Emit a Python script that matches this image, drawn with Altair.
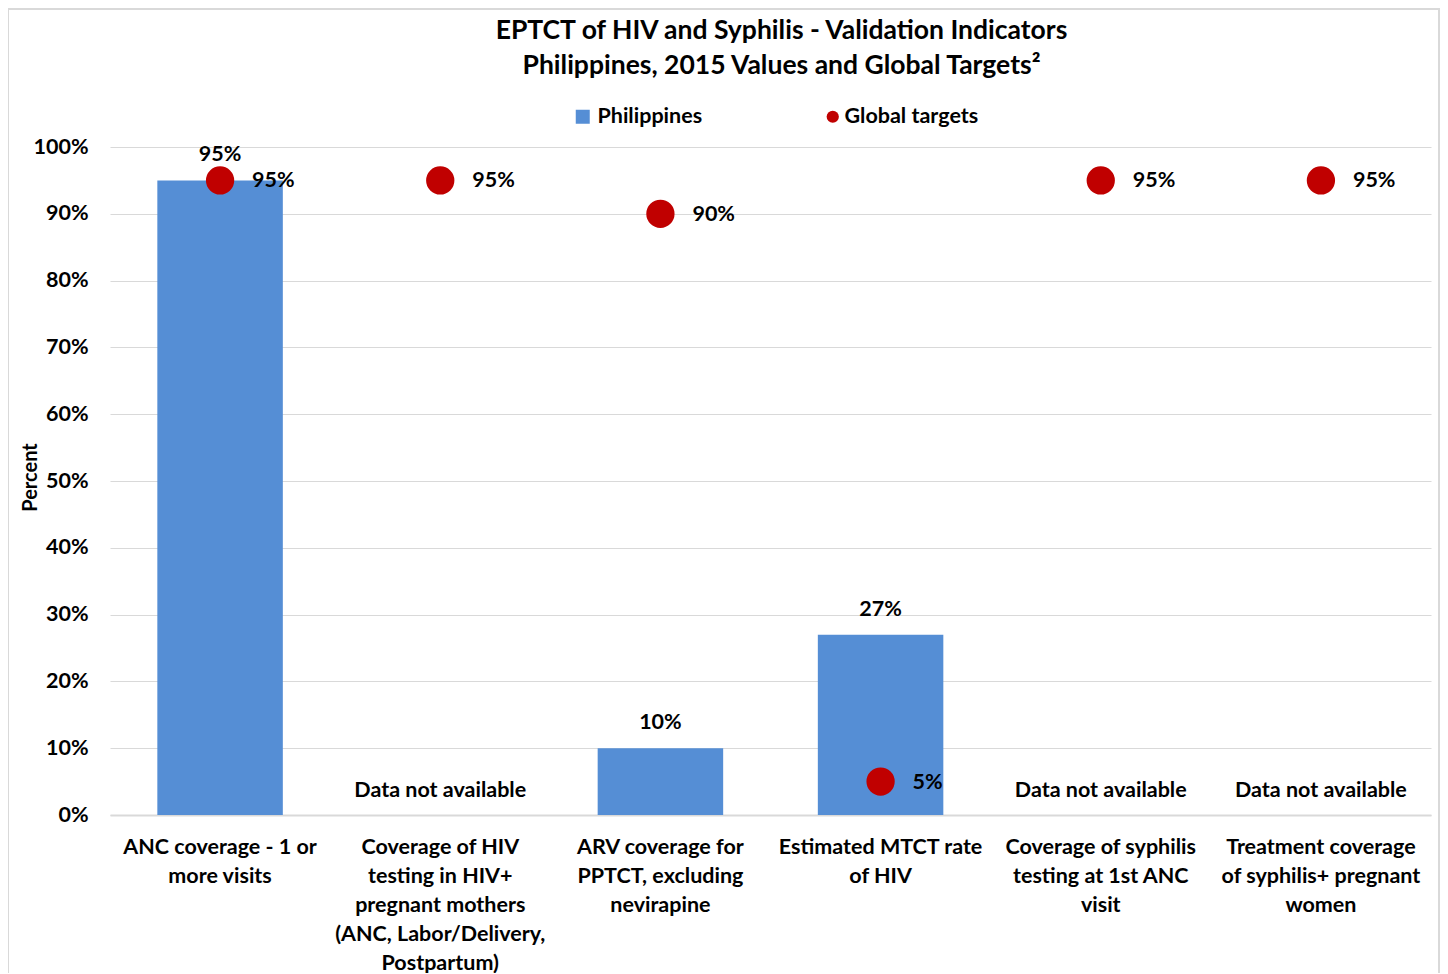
import altair as alt
import pandas as pd

categories = [
    "ANC coverage - 1 or\nmore visits",
    "Coverage of HIV\ntesting in HIV+\npregnant mothers\n(ANC, Labor/Delivery,\nPostpartum)",
    "ARV coverage for\nPPTCT, excluding\nnevirapine",
    "Estimated MTCT rate\nof HIV",
    "Coverage of syphilis\ntesting at 1st ANC\nvisit",
    "Treatment coverage\nof syphilis+ pregnant\nwomen",
]
philippines = [95, None, 10, 27, None, None]
global_targets = [95, 95, 90, 5, 95, 95]
y_ticks = [0, 10, 20, 30, 40, 50, 60, 70, 80, 90, 100]

FONT = "Lato"
FS = 21.5
BAR = "#558ED5"
DOT = "#C00000"

df = pd.DataFrame({"category": categories, "value": philippines, "target": global_targets})

base = alt.Chart(df)

yaxis = alt.Axis(
    values=y_ticks, labelExpr="datum.value + '%'", title="Percent",
    labelFont=FONT, labelFontSize=FS, labelFontWeight="bold", labelColor="black",
    labelPadding=22, ticks=False, domain=False,
    grid=True, gridColor="#D9D9D9", gridWidth=1,
    titleFont=FONT, titleFontSize=20, titleFontWeight="bold", titleColor="black",
    titleX=-80, titleY=330, titleAngle=-90, titleAlign="center", titleBaseline="middle",
)
yscale = alt.Scale(domain=[0, 100], nice=False)

xenc = alt.X(
    "category:N", sort=categories, title=None,
    scale=alt.Scale(paddingInner=0.43, paddingOuter=0.215),
    axis=alt.Axis(
        labelAngle=0, labelExpr="split(datum.label, '\\n')", labelFont=FONT,
        labelFontSize=FS, labelFontWeight="bold", labelColor="black",
        labelLineHeight=29, labelPadding=21, labelBaseline="top", labelLimit=0,
        ticks=False, domain=True, domainColor="#D9D9D9", domainWidth=2, grid=False,
    ),
)

def yenc(field):
    return alt.Y(field, scale=yscale, axis=yaxis)

bars = base.transform_filter("isValid(datum.value)").transform_calculate(
    series="'Philippines'"
).mark_bar(color=BAR).encode(
    x=xenc,
    y=yenc("value:Q"),
    color=alt.Color(
        "series:N",
        scale=alt.Scale(domain=["Philippines"], range=[BAR]),
        legend=alt.Legend(
            title=None, orient="none", legendX=462, legendY=-41, symbolType="square",
            symbolSize=196, symbolStrokeWidth=0, labelFont=FONT, labelFontSize=FS,
            labelFontWeight="bold", labelColor="black", padding=0, labelOffset=4,
        ),
    ),
)

bar_labels = base.transform_filter("isValid(datum.value)").transform_calculate(
    lab="datum.value + '%'"
).mark_text(font=FONT, fontSize=FS, fontWeight="bold", color="black", baseline="middle", dy=-25).encode(
    x=xenc, y=yenc("value:Q"), text="lab:N"
)

na_labels = base.transform_filter("!isValid(datum.value)").transform_calculate(
    zero="0", lab="'Data not available'"
).mark_text(font=FONT, fontSize=FS, fontWeight="bold", color="black", baseline="middle", dy=-24).encode(
    x=xenc, y=yenc("zero:Q"), text="lab:N"
)

points = base.transform_calculate(tseries="'Global targets'").mark_circle(size=800, opacity=1).encode(
    x=xenc,
    y=yenc("target:Q"),
    fill=alt.Fill(
        "tseries:N",
        scale=alt.Scale(domain=["Global targets"], range=[DOT]),
        legend=alt.Legend(
            title=None, orient="none", legendX=712, legendY=-41, symbolType="circle",
            symbolSize=150, symbolStrokeWidth=0, labelFont=FONT, labelFontSize=FS,
            labelFontWeight="bold", labelColor="black", padding=0, labelOffset=1,
        ),
    ),
)

point_labels = base.transform_calculate(lab="datum.target + '%'").mark_text(
    font=FONT, fontSize=FS, fontWeight="bold", color="black", baseline="middle", align="left", dx=32, dy=1
).encode(x=xenc, y=yenc("target:Q"), text="lab:N")

frame = alt.Chart(pd.DataFrame({"f": [0]})).mark_rect(
    filled=False, stroke="#D9D9D9", strokeWidth=2
).encode(x=alt.value(-102), x2=alt.value(1329), y=alt.value(-138), y2=alt.value(840))

chart = alt.layer(frame, bars, bar_labels, na_labels, points, point_labels).resolve_scale(
    color="independent", fill="independent"
).properties(
    width=1321,
    height=668,
    title=alt.Title(
        text=["EPTCT of HIV and Syphilis - Validation Indicators", "Philippines, 2015 Values and Global Targets²"],
        font=FONT, fontSize=26.5, fontWeight="bold", color="black", anchor="middle",
        dx=11, offset=-71, lineHeight=35,
    ),
    autosize=alt.AutoSizeParams(type="none"),
    padding={"left": 102, "top": 139, "right": 9, "bottom": 158},
).configure_view(stroke=None)

chart.save("out.html", embed_options={"renderer": "svg", "actions": False})
